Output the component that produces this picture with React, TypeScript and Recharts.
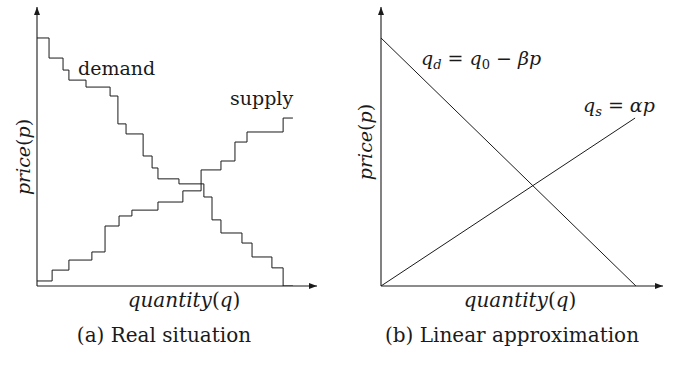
import React from "react";
import { LineChart, Line, XAxis, YAxis } from "recharts";

// (a) real situation: step curves, quantity q vs price p (axis units 0-100)
const DEMAND_Q = [0, 4.3, 9.3, 11.4, 17.5, 26.1, 28.9, 31.8, 37.9, 41.1, 43.2, 50.7, 59.6, 62.5, 65.7, 73.2, 76.8, 83.9, 87.9, 91.4];
const DEMAND_P = [88.9, 81.7, 77.4, 73.8, 71.3, 68.1, 58.1, 54.5, 46.6, 42.3, 38.4, 36.6, 31.9, 23.7, 19.0, 15.4, 10.4, 6.5, 0, 0];
const SUPPLY_Q = [0, 5.4, 11.4, 19.6, 24.3, 29.3, 33.9, 43.2, 52.1, 58.6, 65.7, 70.7, 75.0, 87.9, 91.4];
const SUPPLY_P = [1.8, 5.7, 9.3, 12.2, 21.5, 25.1, 27.2, 30.1, 34.1, 41.6, 44.8, 51.6, 55.2, 60.2, 60.2];

// (b) linear approximation
const LIN_DEMAND_Q = [0, 90.4];
const LIN_DEMAND_P = [88.9, 0];
const LIN_SUPPLY_Q = [0, 90.1];
const LIN_SUPPLY_P = [0, 60.2];

const toRows = (qs: number[], ps: number[]) => qs.map((q, i) => ({ q, p: ps[i] }));

const FONT = "'DejaVu Serif', 'Liberation Serif', serif";
const INK = "#1a1a1a";

const xAxisLine = { stroke: INK, strokeWidth: 1.1, markerEnd: "url(#arrowHead)" };
const yAxisLine = { stroke: INK, strokeWidth: 1.1, markerStart: "url(#arrowHead)" };

function Panel({
  left,
  width,
  marginRight,
  series,
}: {
  left: number;
  width: number;
  marginRight: number;
  series: { rows: { q: number; p: number }[]; type: "stepAfter" | "linear" }[];
}) {
  return (
    <div style={{ position: "absolute", left, top: 0 }}>
      <LineChart width={width} height={320} margin={{ top: 7, right: marginRight, left: 27, bottom: 0 }}>
        <XAxis
          type="number"
          dataKey="q"
          domain={[0, 100]}
          height={34}
          tick={false}
          tickLine={false}
          axisLine={xAxisLine}
          allowDataOverflow
        />
        <YAxis
          type="number"
          dataKey="p"
          domain={[0, 100]}
          width={10}
          tick={false}
          tickLine={false}
          axisLine={yAxisLine}
          allowDataOverflow
        />
        {series.map((s, i) => (
          <Line
            key={i}
            data={s.rows}
            dataKey="p"
            type={s.type}
            stroke={INK}
            strokeWidth={1}
            dot={false}
            activeDot={false}
            isAnimationActive={false}
          />
        ))}
      </LineChart>
    </div>
  );
}

const sub = { fontSize: 13 };

export default function App() {
  return (
    <div style={{ position: "absolute", left: 0, top: 0, width: 678, height: 365, background: "#fff" }}>
      <svg width={0} height={0} style={{ position: "absolute" }}>
        <defs>
          <marker
            id="arrowHead"
            viewBox="0 0 8 6"
            refX={8}
            refY={3}
            markerWidth={8}
            markerHeight={6}
            markerUnits="userSpaceOnUse"
            orient="auto-start-reverse"
          >
            <path d="M0,0 L8,3 L0,6 Z" fill={INK} />
          </marker>
        </defs>
      </svg>

      <Panel
        left={0}
        width={340}
        marginRight={23}
        series={[
          { rows: toRows(DEMAND_Q, DEMAND_P), type: "stepAfter" },
          { rows: toRows(SUPPLY_Q, SUPPLY_P), type: "stepAfter" },
        ]}
      />
      <Panel
        left={344}
        width={334}
        marginRight={15}
        series={[
          { rows: toRows(LIN_DEMAND_Q, LIN_DEMAND_P), type: "linear" },
          { rows: toRows(LIN_SUPPLY_Q, LIN_SUPPLY_P), type: "linear" },
        ]}
      />

      {/* text layer */}
      <svg
        width={678}
        height={365}
        style={{ position: "absolute", left: 0, top: 0, pointerEvents: "none", whiteSpace: "pre" }}
        fontFamily={FONT}
        fontSize={19}
        fill={INK}
      >
        <text x={78} y={75}>demand</text>
        <text x={230} y={105}>supply</text>

        <text x={30} y={157} textAnchor="middle" transform="rotate(-90 30 157)">
          <tspan fontStyle="italic">price</tspan>(<tspan fontStyle="italic">p</tspan>)
        </text>
        <text x={372} y={142} textAnchor="middle" transform="rotate(-90 372 142)">
          <tspan fontStyle="italic">price</tspan>(<tspan fontStyle="italic">p</tspan>)
        </text>

        <text x={184} y={307} textAnchor="middle" fontSize={20}>
          <tspan fontStyle="italic">quantity</tspan>(<tspan fontStyle="italic">q</tspan>)
        </text>
        <text x={520} y={307} textAnchor="middle" fontSize={20}>
          <tspan fontStyle="italic">quantity</tspan>(<tspan fontStyle="italic">q</tspan>)
        </text>

        <text x={421} y={65}>
          <tspan fontStyle="italic">q</tspan>
          <tspan {...sub} fontStyle="italic" dy={4}>d</tspan>
          <tspan dy={-4}> = </tspan>
          <tspan fontStyle="italic">q</tspan>
          <tspan {...sub} dy={4}>0</tspan>
          <tspan dy={-4}> − </tspan>
          <tspan fontStyle="italic">βp</tspan>
        </text>
        <text x={583} y={112}>
          <tspan fontStyle="italic">q</tspan>
          <tspan {...sub} fontStyle="italic" dy={4}>s</tspan>
          <tspan dy={-4}> = </tspan>
          <tspan fontStyle="italic">αp</tspan>
        </text>

        <text x={164} y={342} textAnchor="middle" fontSize={20}>(a) Real situation</text>
        <text x={512} y={342} textAnchor="middle" fontSize={20}>(b) Linear approximation</text>
      </svg>
    </div>
  );
}
